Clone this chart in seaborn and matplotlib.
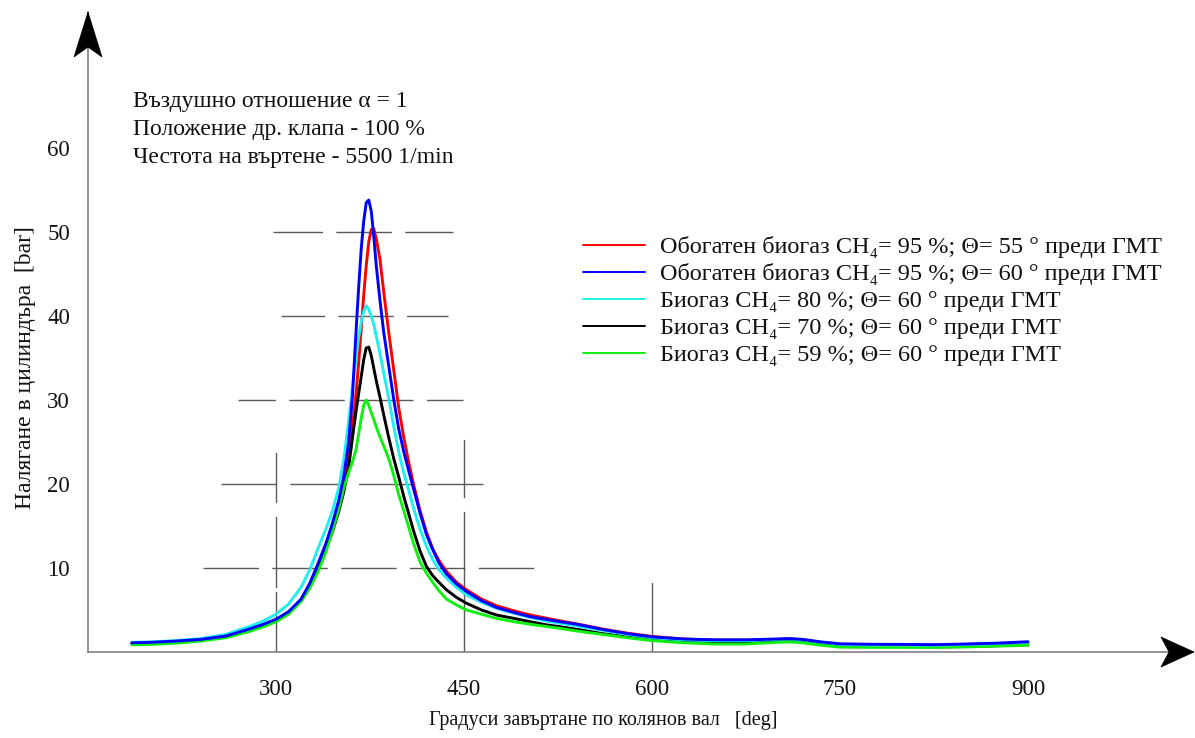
import numpy as np
import pandas as pd
import matplotlib
matplotlib.use("Agg")
import matplotlib.pyplot as plt
from matplotlib.lines import Line2D
from matplotlib.patches import Polygon
import seaborn as sns

# ---------------- data ----------------
angle = [185, 200, 220, 240, 260, 280, 290, 300, 310, 320, 327, 334, 340, 345,
         350, 354, 358, 361, 364, 366, 368, 370, 372, 374, 376, 378, 380, 383,
         386, 390, 394, 398, 402, 406, 410, 415, 420, 425, 430, 436, 444, 452,
         464, 476, 490, 503, 515, 527, 540, 560, 580, 600, 625, 650, 675, 700,
         710, 720, 735, 750, 775, 800, 825, 850, 875, 900]

p_red = [1.0, 1.05, 1.2, 1.45, 1.85, 2.75, 3.2, 3.8, 4.7, 6.2, 8.0, 10.4, 12.8, 15.0,
         17.6, 20.2, 23.5, 26.8, 31.0, 34.5, 38.5, 42.5, 46.0, 48.8, 50.3, 50.4, 49.2, 46.7,
         42.8, 38.0, 33.5, 29.0, 25.5, 22.5, 19.8, 16.8, 14.3, 12.3, 10.9, 9.6, 8.3, 7.4,
         6.3, 5.5, 4.9, 4.4, 4.05, 3.7, 3.35, 2.75, 2.25, 1.85, 1.55, 1.4, 1.4, 1.5,
         1.55, 1.45, 1.15, 0.92, 0.88, 0.87, 0.84, 0.9, 1.0, 1.15]

p_blue = [1.1, 1.15, 1.3, 1.5, 1.9, 2.8, 3.3, 3.9, 4.8, 6.3, 8.2, 10.7, 13.0, 15.3,
          18.0, 20.8, 25.0, 30.5, 38.5, 43.5, 48.0, 51.3, 53.5, 53.8, 52.5, 49.5, 46.0, 41.8,
          38.0, 34.0, 30.0, 26.5, 23.8, 21.5, 19.3, 16.5, 14.0, 12.2, 10.6, 9.3, 8.1, 7.2,
          6.1, 5.3, 4.7, 4.2, 3.9, 3.6, 3.3, 2.7, 2.2, 1.8, 1.55, 1.45, 1.45, 1.55,
          1.6, 1.5, 1.2, 0.97, 0.92, 0.9, 0.87, 0.95, 1.05, 1.22]

p_cyan = [1.15, 1.2, 1.35, 1.6, 2.1, 3.1, 3.7, 4.5, 5.7, 7.7, 9.8, 12.5, 14.7, 16.8,
          19.5, 22.8, 27.5, 31.5, 35.3, 37.5, 39.3, 40.6, 41.2, 40.8, 40.0, 39.0, 37.6, 35.5,
          33.2, 30.2, 26.8, 23.8, 21.3, 19.2, 17.0, 14.6, 12.6, 11.0, 9.8, 8.8, 7.7, 6.8,
          5.9, 5.2, 4.6, 4.1, 3.7, 3.4, 3.1, 2.6, 2.1, 1.7, 1.45, 1.35, 1.35, 1.5,
          1.55, 1.45, 1.15, 0.9, 0.85, 0.85, 0.82, 0.9, 1.0, 1.15]

p_black = [1.0, 1.05, 1.2, 1.45, 1.85, 2.7, 3.2, 3.8, 4.7, 6.2, 7.8, 10.0, 12.3, 14.3,
           16.7, 19.0, 22.0, 25.5, 28.8, 30.8, 32.8, 34.8, 36.2, 36.3, 35.3, 33.8, 32.3, 30.3,
           28.2, 25.5, 23.0, 20.8, 18.5, 16.4, 14.3, 12.0, 10.2, 9.1, 8.3, 7.4, 6.5, 5.8,
           5.0, 4.4, 4.0, 3.6, 3.25, 3.0, 2.7, 2.2, 1.8, 1.5, 1.25, 1.05, 1.05, 1.25,
           1.3, 1.2, 0.95, 0.7, 0.65, 0.65, 0.6, 0.65, 0.75, 0.85]

p_green = [0.85, 0.9, 1.05, 1.3, 1.7, 2.5, 3.0, 3.6, 4.5, 6.0, 7.6, 9.7, 12.0, 14.4,
           17.0, 19.5, 21.4, 22.6, 24.2, 26.0, 27.8, 29.4, 30.0, 29.4, 28.5, 27.7, 26.8, 25.6,
           24.5, 23.0, 21.0, 18.7, 16.8, 14.8, 12.8, 10.7, 9.4, 8.3, 7.3, 6.3, 5.6, 5.0,
           4.5, 4.0, 3.6, 3.3, 3.05, 2.8, 2.5, 2.1, 1.7, 1.35, 1.1, 0.95, 0.95, 1.15,
           1.2, 1.1, 0.8, 0.58, 0.55, 0.55, 0.55, 0.6, 0.7, 0.8]

labels = [
    "Обогатен биогаз CH₄= 95 %; Θ= 55 ° преди ГМТ",
    "Обогатен биогаз CH₄= 95 %; Θ= 60 ° преди ГМТ",
    "Биогаз CH₄= 80 %; Θ= 60 ° преди ГМТ",
    "Биогаз CH₄= 70 %; Θ= 60 ° преди ГМТ",
    "Биогаз CH₄= 59 %; Θ= 60 ° преди ГМТ",
]
series = [p_red, p_blue, p_cyan, p_black, p_green]

x_ticks = [300, 450, 600, 750, 900]
y_ticks = [10, 20, 30, 40, 50, 60]

info_lines = ["Въздушно отношение α = 1",
              "Положение др. клапа - 100 %",
              "Честота на въртене - 5500 1/min"]
xlabel = "Градуси завъртане по колянов вал   [deg]"
ylabel = "Налягане в цилиндъра  [bar]"

# guide segments (decoration): horizontal (y, x0, x1, dash offset px)
h_guides = [(50, 297.6, 441.2, 6), (40, 304.0, 437.2, 12), (30, 269.7, 449.2, 18),
            (20, 256.1, 467.6, 0), (10, 241.8, 506.7, 0)]
# vertical (x, [(y_top, y_bottom), ...])
v_guides = [(300, [(23.7, 17.9), (16.1, 7.7), (7.1, 0)]),
            (450, [(25.2, 18.45), (16.7, 0)]),
            (600, [(8.2, 0)])]

# ---------------- style ----------------
colors = ["#ff0000", "#0000ff", "#22eeee", "#000000", "#11ee11"]
draw_order = [0, 3, 4, 2, 1]

sns.set_style("white")
plt.rcParams["font.family"] = ["Liberation Serif", "DejaVu Serif"]
plt.rcParams["lines.scale_dashes"] = False

W, H = 1195, 738
fig = plt.figure(figsize=(W / 100, H / 100), dpi=100)
ax_l, ax_b, ax_r, ax_t = 88, 652, 1193, 12   # pixel frame
ax = fig.add_axes([ax_l / W, 1 - ax_b / H, (ax_r - ax_l) / W, (ax_b - ax_t) / H])
px_per_deg = 1.2533
px_per_bar = 8.4
ax.set_xlim(150, 150 + (ax_r - ax_l) / px_per_deg)
ax.set_ylim(0, (ax_b - ax_t) / px_per_bar)

gray = "#808080"
px2pt = 72 / 100
for y, x0, x1, off in h_guides:
    ax.plot([x0, x1], [y, y], color="#5a5a5a", lw=1.0,
            linestyle=(off * px2pt, (55.5 * px2pt, 13.3 * px2pt)), zorder=1)
for x, segs in v_guides:
    for y0, y1 in segs:
        ax.plot([x, x], [y0, y1], color="#5a5a5a", lw=1.0, zorder=1)

for i in draw_order:
    sns.lineplot(x=angle, y=series[i], ax=ax, color=colors[i], lw=2.1,
                 legend=False, zorder=3 + draw_order.index(i))

sns.despine(ax=ax, top=True, right=True)
for s in ("left", "bottom"):
    ax.spines[s].set_color(gray)
    ax.spines[s].set_linewidth(1.2)

ax.set_xticks(x_ticks)
ax.set_yticks(y_ticks)
ax.tick_params(axis="both", direction="inout", length=14, width=1.0, color=gray,
               labelsize=16.5, labelcolor="#111111")
ax.tick_params(axis="y", pad=6)
ax.tick_params(axis="x", pad=12.5)

ax.set_xlabel(xlabel, fontsize=14.5, color="#111111")
ax.set_ylabel(ylabel, fontsize=17, color="#111111")
ax.xaxis.set_label_coords((603 - ax_l) / (ax_r - ax_l), -(711 - ax_b) / (ax_b - ax_t))
ax.yaxis.set_label_coords(-(ax_l - 36) / (ax_r - ax_l), (ax_b - 368) / (ax_b - ax_t))

# info text
for k, line in enumerate(info_lines):
    fig.text(133 / W, 1 - (101 + 28 * k) / H, line, fontsize=17, va="center",
             ha="left", color="#111111")

# legend
handles = [Line2D([], [], color=c, lw=1.4) for c in colors]
leg = ax.legend(handles, labels, loc="upper left", frameon=False, fontsize=17.5,
                bbox_to_anchor=(583 / W, 1 - 236 / H), bbox_transform=fig.transFigure,
                borderpad=0, borderaxespad=0, handlelength=2.55, handletextpad=0.62,
                labelspacing=0.21)
for t in leg.get_texts():
    t.set_color("#111111")

# arrow heads (pixel geometry relative to axis ends)
def px_poly(pts):
    return [(px / W, 1 - py / H) for px, py in pts]

yarrow = px_poly([(ax_l, ax_t), (ax_l + 14, ax_t + 45), (ax_l, ax_t + 35), (ax_l - 14, ax_t + 45)])
xarrow = px_poly([(ax_r + 1, ax_b), (ax_r - 32, ax_b + 15), (ax_r - 24, ax_b), (ax_r - 32, ax_b - 15)])
for pts in (yarrow, xarrow):
    fig.patches.append(Polygon(pts, closed=True, facecolor="black", edgecolor="black",
                               lw=0.5, transform=fig.transFigure, figure=fig))

fig.savefig("out.png", dpi=100)
